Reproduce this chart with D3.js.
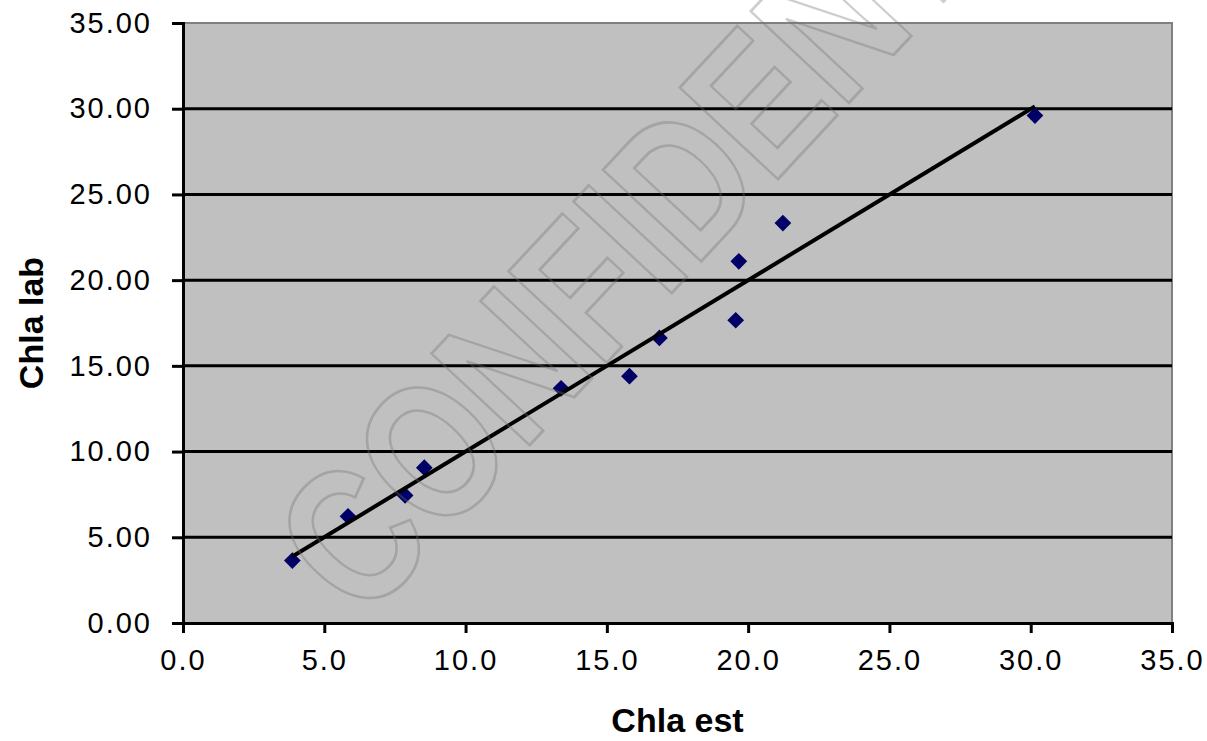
<!DOCTYPE html>
<html>
<head>
<meta charset="utf-8">
<script src="https://cdn.jsdelivr.net/npm/d3@7"></script>
<style>
  html, body { margin: 0; padding: 0; background: #fff; }
  svg { display: block; font-family: "Liberation Sans", Arial, sans-serif; }
</style>
</head>
<body>
<svg id="chart"></svg>
<script>
// values
let chlaEst = [3.87, 5.84, 7.86, 8.54, 13.38, 15.80, 16.86, 19.56, 19.67, 21.23, 30.15];
let chlaLab = [3.64, 6.22, 7.44, 9.06, 13.69, 14.40, 16.63, 17.66, 21.10, 23.33, 29.60];
let xTicks = [0, 5, 10, 15, 20, 25, 30, 35];
let yTicks = [0, 5, 10, 15, 20, 25, 30, 35];
let gridVals = [5, 10, 15, 20, 25, 30];

let width = 1207, height = 741;
let margin = {top: 23, right: 35, bottom: 118, left: 183};

let svg = d3.select('#chart').attr('width', width).attr('height', height);

let x = d3.scaleLinear().domain([0, 35]).range([margin.left, width - margin.right]);
let y = d3.scaleLinear().domain([0, 35]).range([height - margin.bottom, margin.top]);

let points = chlaEst.map((d, i) => ({x: d, y: chlaLab[i]}));

// linear trendline (least squares), spans the data range like Excel
let mx = d3.mean(points, d => d.x), my = d3.mean(points, d => d.y);
let slope = d3.sum(points, d => (d.x - mx) * (d.y - my)) / d3.sum(points, d => (d.x - mx) ** 2);
let icpt = my - slope * mx;
let xr = d3.extent(chlaEst);
let trend = xr.map(v => ({x: v, y: icpt + slope * v}));

// plot area
svg.append('rect')
    .attr('x', x(0)).attr('y', y(35))
    .attr('width', x(35) - x(0)).attr('height', y(0) - y(35))
    .attr('fill', '#c0c0c0');

// top and right border
svg.append('path')
    .attr('d', `M${x(0)},${y(35)}H${x(35)}V${y(0)}`)
    .attr('fill', 'none').attr('stroke', '#808080').attr('stroke-width', 2);

// gridlines
svg.append('g')
    .selectAll('line')
    .data(gridVals)
    .join('line')
    .attr('x1', x(0)).attr('x2', x(35))
    .attr('y1', d => y(d)).attr('y2', d => y(d))
    .attr('stroke', '#000').attr('stroke-width', 3);

// axes
let yAxis = g => g
    .attr('transform', `translate(${x(0)},0)`)
    .call(d3.axisLeft(y).tickValues(yTicks).tickFormat(d3.format('.2f')).tickSize(11).tickPadding(20))
    .call(g => g.select('.domain').attr('stroke', '#000').attr('stroke-width', 3))
    .call(g => g.selectAll('.tick line').attr('stroke', '#000').attr('stroke-width', 3))
    .call(g => g.selectAll('.tick text')
        .attr('font-size', 29).attr('letter-spacing', 2).attr('fill', '#000')
        .attr('font-family', '"Liberation Sans", Arial, sans-serif'));

let xAxis = g => g
    .attr('transform', `translate(0,${y(0)})`)
    .call(d3.axisBottom(x).tickValues(xTicks).tickFormat(d3.format('.1f')).tickSize(10).tickPadding(16))
    .call(g => g.select('.domain').attr('stroke', '#000').attr('stroke-width', 3))
    .call(g => g.selectAll('.tick line').attr('stroke', '#000').attr('stroke-width', 3))
    .call(g => g.selectAll('.tick text')
        .attr('font-size', 29).attr('letter-spacing', 2).attr('fill', '#000')
        .attr('font-family', '"Liberation Sans", Arial, sans-serif'));

svg.append('g').call(xAxis);
svg.append('g').call(yAxis);

// points
svg.append('g')
    .selectAll('path')
    .data(points)
    .join('path')
    .attr('transform', d => `translate(${x(d.x)},${y(d.y)}) rotate(45)`)
    .attr('d', d3.symbol(d3.symbolSquare, 140))
    .attr('fill', '#000066');

// trendline
svg.append('path')
    .datum(trend)
    .attr('d', d3.line().x(d => x(d.x)).y(d => y(d.y)))
    .attr('stroke', '#000').attr('stroke-width', 4).attr('fill', 'none');

// axis titles
svg.append('text')
    .attr('x', (x(0) + x(35)) / 2).attr('y', 732)
    .attr('text-anchor', 'middle')
    .attr('font-size', 34).attr('font-weight', 'bold')
    .text('Chla est');

svg.append('text')
    .attr('transform', `translate(43,${(y(0) + y(35)) / 2}) rotate(-90)`)
    .attr('text-anchor', 'middle')
    .attr('font-size', 34).attr('font-weight', 'bold')
    .text('Chla lab');

// watermark
svg.append('text')
    .attr('transform', 'translate(363,624) rotate(-47) scale(0.8,1)')
    .attr('font-size', 195).attr('font-weight', 'bold')
    .attr('fill', 'none')
    .attr('stroke', '#707070').attr('stroke-width', 2.8).attr('stroke-opacity', 0.35)
    .text('CONFIDENTIAL');
</script>
</body>
</html>
